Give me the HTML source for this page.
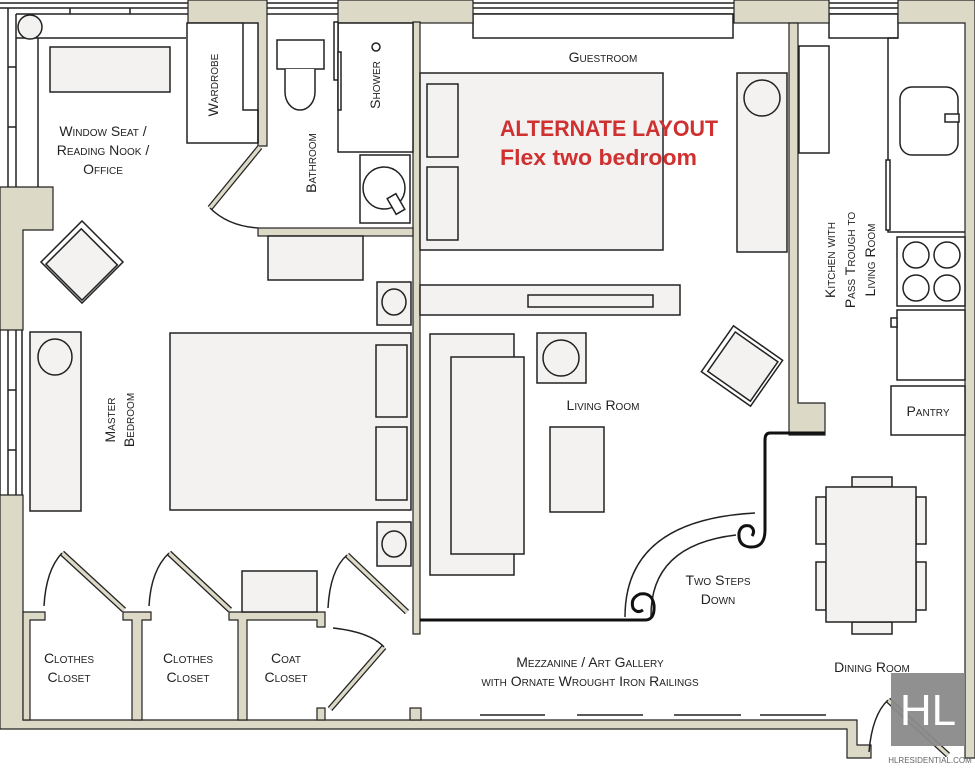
<!DOCTYPE html>
<html><head><meta charset="utf-8"><style>
html,body{margin:0;padding:0;background:#fff;}
svg{display:block;}
text{font-family:"Liberation Sans",sans-serif;fill:#222;font-size:14px;font-variant:small-caps;}
</style></head><body>
<svg width="975" height="768" viewBox="0 0 975 768" xmlns="http://www.w3.org/2000/svg">
<g stroke="#222" stroke-width="1.5" fill="none">
<path d="M0 3H975M0 8H975M16 14H190M265 14H338M473 14H735M829 14H898"/>
<rect x="473" y="14" width="260" height="24" fill="#fff"/>
<rect x="829" y="14" width="69" height="24" fill="#fff"/>
<path d="M8 8V190M16 14V190M38 38V190M16 38H186"/>
<path d="M8 67H16M8 127H16M70 8V14M130 8V14"/>
<circle cx="30" cy="27" r="12" fill="#f3f2f1"/>
</g>
<g fill="#dcd9c6" stroke="#222" stroke-width="1.2">
<path d="M188 0H267V146H258V110H243V23H188Z"/>
<rect x="338" y="0" width="135" height="23"/>
<rect x="734" y="0" width="95" height="23"/>
<path d="M898 0H975V758H965V23H898Z"/>
<path d="M789 23H798V403H825V435H789Z"/>
<path d="M0 187H53V230H23V330H0Z"/>
<path d="M0 495H23V720H857V745H871V758H847V729H0Z"/>
<rect x="413" y="22" width="7" height="612"/>
<rect x="258" y="228" width="155" height="8"/>
<path d="M23 612H45V620H30V720H23Z"/>
<path d="M123 612H151V620H142V720H132V620H123Z"/>
<path d="M229 612H325V627H317V620H247V720H238V620H229Z"/>
<rect x="317" y="708" width="8" height="12"/>
<rect x="410" y="708" width="11" height="12"/>
</g>
<g stroke="#222" stroke-width="1.5" fill="none">
<path d="M0 330V495M8 330V495M16 330V495M22 330V495M8 390H16M8 450H16"/>
<rect x="50" y="47" width="120" height="45" fill="#f3f2f1"/>
<g transform="translate(82,262) rotate(45)"><rect x="-29" y="-29" width="58" height="58" fill="#fff"/><rect x="-24" y="-23" width="51" height="50" fill="#f3f2f1"/></g>
<rect x="187" y="23" width="71" height="120" fill="#fff"/>
<path d="M243 23V110H258V143" />
<path d="M260 147L210 208" stroke="#222" stroke-width="6"/>
<path d="M260 147L210 208" stroke="#dcd9c6" stroke-width="3.5"/>
<path d="M210 208Q228 226 258 228"/>
<rect x="277" y="40" width="47" height="29" fill="#fff"/>
<path d="M285 69V92A15 18 0 0 0 315 92V69" fill="#fff"/>
<rect x="338" y="23" width="75" height="129" fill="#fff"/>
<rect x="334" y="22" width="4" height="58" fill="#fff"/>
<rect x="338" y="52" width="3" height="58" fill="#fff"/>
<circle cx="376" cy="47" r="4"/>
<rect x="360" y="155" width="50" height="68" fill="#fff"/>
<circle cx="384" cy="188" r="21"/>
<g transform="translate(396,204) rotate(-30)"><rect x="-5" y="-9" width="10" height="18" fill="#fff"/></g>
<rect x="268" y="236" width="95" height="44" fill="#f3f2f1"/>
<rect x="377" y="282" width="34" height="43" fill="#f3f2f1"/><ellipse cx="394" cy="302" rx="12" ry="13"/>
<rect x="377" y="522" width="34" height="44" fill="#f3f2f1"/><ellipse cx="394" cy="544" rx="12" ry="13"/>
<rect x="170" y="333" width="241" height="177" fill="#f3f2f1"/>
<rect x="376" y="345" width="31" height="72" fill="#f3f2f1"/>
<rect x="376" y="427" width="31" height="73" fill="#f3f2f1"/>
<rect x="30" y="332" width="51" height="179" fill="#f3f2f1"/>
<ellipse cx="55" cy="357" rx="17" ry="18"/>
<rect x="420" y="73" width="243" height="177" fill="#f3f2f1"/>
<rect x="427" y="84" width="31" height="73" fill="#f3f2f1"/>
<rect x="427" y="167" width="31" height="73" fill="#f3f2f1"/>
<rect x="737" y="73" width="50" height="179" fill="#f3f2f1"/>
<circle cx="762" cy="98" r="18"/>
<rect x="420" y="285" width="260" height="30" fill="#f3f2f1"/>
<rect x="528" y="295" width="125" height="12" fill="#f3f2f1"/>
<rect x="430" y="334" width="84" height="241" fill="#f3f2f1"/>
<rect x="451" y="357" width="73" height="197" fill="#f3f2f1"/>
<rect x="537" y="333" width="49" height="50" fill="#f3f2f1"/><circle cx="561" cy="358" r="18"/>
<rect x="550" y="427" width="54" height="85" fill="#f3f2f1"/>
<g transform="translate(742,366) rotate(-55)"><rect x="-28" y="-30" width="56" height="60" fill="#fff"/><rect x="-24" y="-25" width="48" height="52" fill="#f3f2f1"/></g>
<rect x="799" y="46" width="30" height="107" fill="#fff"/>
<path d="M898 38H888V232H965"/>
<rect x="886" y="160" width="4" height="70" fill="#fff"/>
<rect x="900" y="87" width="58" height="68" rx="12" fill="#fff"/>
<rect x="945" y="114" width="14" height="8" fill="#fff"/>
<rect x="897" y="237" width="68" height="69" fill="#fff"/>
<circle cx="916" cy="255" r="13"/><circle cx="947" cy="255" r="13"/>
<circle cx="916" cy="288" r="13"/><circle cx="947" cy="288" r="13"/>
<rect x="897" y="310" width="68" height="70" fill="#fff"/>
<rect x="891" y="318" width="6" height="9" fill="#fff"/>
<rect x="891" y="386" width="74" height="49" fill="#fff"/>
<rect x="852" y="477" width="40" height="10" fill="#f3f2f1"/>
<rect x="852" y="622" width="40" height="12" fill="#f3f2f1"/>
<rect x="816" y="497" width="10" height="47" fill="#f3f2f1"/>
<rect x="816" y="562" width="10" height="48" fill="#f3f2f1"/>
<rect x="916" y="497" width="10" height="47" fill="#f3f2f1"/>
<rect x="916" y="562" width="10" height="48" fill="#f3f2f1"/>
<rect x="826" y="487" width="90" height="135" fill="#f3f2f1"/>
<g stroke-width="6" stroke="#222"><path d="M62 553L124 610M169 553L230 610M347 555L407 612M384 647L330 709M888 700L948 755"/></g>
<g stroke-width="3.5" stroke="#dcd9c6"><path d="M62 553L124 610M169 553L230 610M347 555L407 612M384 647L330 709M888 700L948 755"/></g>
<path d="M44 606Q46 570 62 553M149 606Q151 570 169 553M328 608Q330 570 347 555M333 628Q370 632 384 647M869 752Q872 715 888 700"/>
<rect x="242" y="571" width="75" height="41" fill="#f3f2f1"/>
<path d="M480 715H545M577 715H643M674 715H741M760 715H826"/>
<path d="M625 617Q625 520 755 513"/>
<path d="M651 617Q650 545 736 535"/>
</g>
<g stroke="#111" stroke-width="3" fill="none">
<path d="M420 620H645Q655 620 654 605Q652 592 640 594Q630 598 633 608Q637 614 643 610"/>
<path d="M825 433H770Q765 433 765 440V530Q765 548 750 547Q738 546 739 533Q741 524 750 526Q756 530 752 536"/>
</g>
<rect x="891" y="673" width="74" height="73" fill="#8a8a8a" opacity="0.95"/>
<text x="928" y="725" text-anchor="middle" style="font-size:44px;fill:#fff;font-variant:normal;font-weight:300">HL</text>
<text x="930" y="763" text-anchor="middle" style="font-size:8px;fill:#666;font-variant:normal">HLRESIDENTIAL.COM</text>
<text x="103" y="136" text-anchor="middle">Window Seat /</text>
<text x="103" y="155" text-anchor="middle">Reading Nook /</text>
<text x="103" y="174" text-anchor="middle">Office</text>
<text transform="translate(218,85) rotate(-90)" text-anchor="middle">Wardrobe</text>
<text transform="translate(380,85) rotate(-90)" text-anchor="middle">Shower</text>
<text transform="translate(316,163) rotate(-90)" text-anchor="middle">Bathroom</text>
<text x="603" y="62" text-anchor="middle">Guestroom</text>
<text x="500" y="136" textLength="218" lengthAdjust="spacingAndGlyphs" style="font-size:22px;font-weight:bold;fill:#cf3131;font-variant:normal">ALTERNATE LAYOUT</text>
<text x="500" y="165" textLength="197" lengthAdjust="spacingAndGlyphs" style="font-size:22px;font-weight:bold;fill:#cf3131;font-variant:normal">Flex two bedroom</text>
<text transform="translate(115,420) rotate(-90)" text-anchor="middle">Master</text>
<text transform="translate(134,420) rotate(-90)" text-anchor="middle">Bedroom</text>
<text x="603" y="410" text-anchor="middle">Living Room</text>
<text transform="translate(835,260) rotate(-90)" text-anchor="middle">Kitchen with</text>
<text transform="translate(855,260) rotate(-90)" text-anchor="middle">Pass Trough to</text>
<text transform="translate(875,260) rotate(-90)" text-anchor="middle">Living Room</text>
<text x="928" y="416" text-anchor="middle">Pantry</text>
<text x="718" y="585" text-anchor="middle">Two Steps</text>
<text x="718" y="604" text-anchor="middle">Down</text>
<text x="69" y="663" text-anchor="middle">Clothes</text>
<text x="69" y="682" text-anchor="middle">Closet</text>
<text x="188" y="663" text-anchor="middle">Clothes</text>
<text x="188" y="682" text-anchor="middle">Closet</text>
<text x="286" y="663" text-anchor="middle">Coat</text>
<text x="286" y="682" text-anchor="middle">Closet</text>
<text x="590" y="667" text-anchor="middle">Mezzanine / Art Gallery</text>
<text x="590" y="686" text-anchor="middle">with Ornate Wrought Iron Railings</text>
<text x="872" y="672" text-anchor="middle">Dining Room</text>
</svg>
</body></html>
